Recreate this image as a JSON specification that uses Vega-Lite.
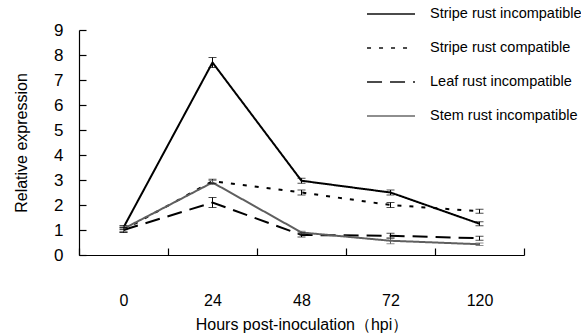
{
  "$schema": "https://vega.github.io/schema/vega-lite/v6.json",
  "autosize": "none",
  "width": 445,
  "height": 225,
  "padding": {"left": 79, "top": 30, "right": 57, "bottom": 80},
  "background": "white",
  "config": {
    "font": "Liberation Sans",
    "view": {"stroke": null},
    "axis": {"domainColor": "#000", "tickColor": "#000", "labelColor": "#000", "titleColor": "#000", "grid": false, "titleFontWeight": "normal", "domainWidth": 1.2, "tickWidth": 1.2},
    "legend": {"labelColor": "#000"}
  },
  "data": {"values": [
    {"s": "Stripe rust incompatible", "h": "0", "m": 1.1, "lo": 1.02, "hi": 1.18},
    {"s": "Stripe rust incompatible", "h": "24", "m": 7.7, "lo": 7.5, "hi": 7.9},
    {"s": "Stripe rust incompatible", "h": "48", "m": 2.97, "lo": 2.87, "hi": 3.07},
    {"s": "Stripe rust incompatible", "h": "72", "m": 2.5, "lo": 2.4, "hi": 2.6},
    {"s": "Stripe rust incompatible", "h": "120", "m": 1.25, "lo": 1.17, "hi": 1.33},
    {"s": "Stripe rust compatible", "h": "0", "m": 1.0, "lo": 0.92, "hi": 1.08},
    {"s": "Stripe rust compatible", "h": "24", "m": 2.95, "lo": 2.87, "hi": 3.03},
    {"s": "Stripe rust compatible", "h": "48", "m": 2.5, "lo": 2.4, "hi": 2.6},
    {"s": "Stripe rust compatible", "h": "72", "m": 2.0, "lo": 1.9, "hi": 2.1},
    {"s": "Stripe rust compatible", "h": "120", "m": 1.75, "lo": 1.67, "hi": 1.83},
    {"s": "Leaf rust incompatible", "h": "0", "m": 1.0, "lo": 0.9, "hi": 1.1},
    {"s": "Leaf rust incompatible", "h": "24", "m": 2.1, "lo": 1.9, "hi": 2.3},
    {"s": "Leaf rust incompatible", "h": "48", "m": 0.8, "lo": 0.72, "hi": 0.88},
    {"s": "Leaf rust incompatible", "h": "72", "m": 0.77, "lo": 0.67, "hi": 0.87},
    {"s": "Leaf rust incompatible", "h": "120", "m": 0.67, "lo": 0.59, "hi": 0.75},
    {"s": "Stem rust incompatible", "h": "0", "m": 1.05, "lo": 0.95, "hi": 1.15},
    {"s": "Stem rust incompatible", "h": "24", "m": 2.9, "lo": 2.82, "hi": 2.98},
    {"s": "Stem rust incompatible", "h": "48", "m": 0.9, "lo": 0.85, "hi": 0.95},
    {"s": "Stem rust incompatible", "h": "72", "m": 0.57, "lo": 0.45, "hi": 0.69},
    {"s": "Stem rust incompatible", "h": "120", "m": 0.43, "lo": 0.38, "hi": 0.48}
  ]},
  "encoding": {
    "x": {"field": "h", "type": "ordinal", "sort": ["0", "24", "48", "72", "120"],
      "scale": {"type": "band", "paddingInner": 0, "paddingOuter": 0},
      "axis": {"title": "Hours post-inoculation（hpi）", "labelAngle": 0, "labelFontSize": 16, "titleFontSize": 16, "tickBand": "extent", "tickSize": -7, "labelPadding": 44, "titlePadding": 8}},
    "color": {"field": "s", "type": "nominal", "title": null,
      "scale": {"domain": ["Stripe rust incompatible", "Stripe rust compatible", "Leaf rust incompatible", "Stem rust incompatible"], "range": ["#000000", "#000000", "#000000", "#5f5f5f"]},
      "legend": {"orient": "none", "legendX": 287, "legendY": -41, "symbolType": "stroke", "symbolSize": 2300, "symbolStrokeWidth": 2, "labelFontSize": 14.5, "labelOffset": 14, "rowPadding": 2, "symbolOffset": 0}}
  },
  "layer": [
    {
      "mark": {"type": "line", "strokeWidth": 2},
      "encoding": {
        "y": {"field": "m", "type": "quantitative",
          "scale": {"domain": [0, 9], "nice": false},
          "axis": {"title": "Relative expression", "tickCount": 10, "values": [0,1,2,3,4,5,6,7,8,9], "labelOverlap": false, "labelFontSize": 17, "titleFontSize": 16, "tickSize": -7, "labelPadding": 23, "titlePadding": 24}},
        "strokeDash": {"field": "s", "type": "nominal", "title": null,
          "scale": {"domain": ["Stripe rust incompatible", "Stripe rust compatible", "Leaf rust incompatible", "Stem rust incompatible"], "range": [[1, 0], [4, 8], [15, 8], [1, 0]]}}
      }
    },
    {
      "mark": {"type": "rule", "strokeWidth": 1},
      "encoding": {
        "y": {"field": "lo", "type": "quantitative"},
        "y2": {"field": "hi"}
      }
    },
    {
      "mark": {"type": "tick", "thickness": 1, "size": 8},
      "encoding": {"y": {"field": "lo", "type": "quantitative"}}
    },
    {
      "mark": {"type": "tick", "thickness": 1, "size": 8},
      "encoding": {"y": {"field": "hi", "type": "quantitative"}}
    }
  ]
}
